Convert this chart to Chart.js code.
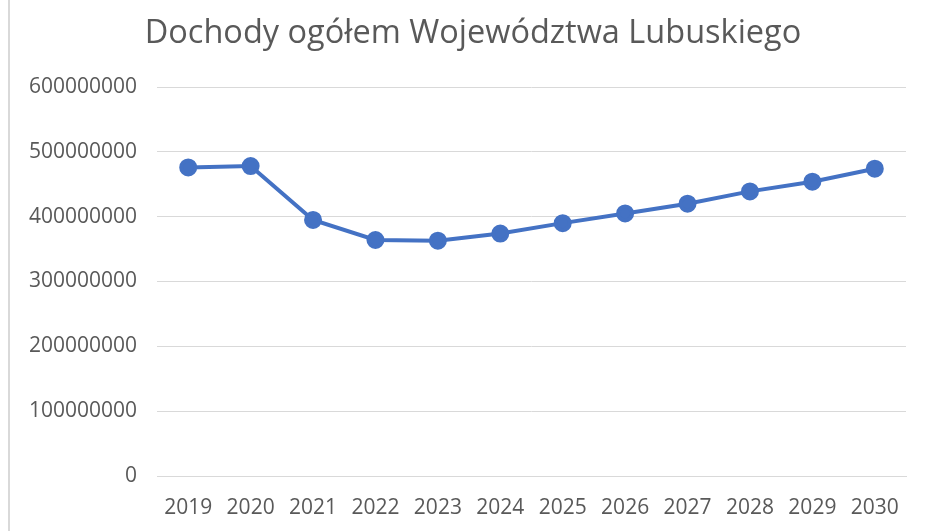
<!DOCTYPE html>
<html>
<head>
<meta charset="utf-8">
<script src="https://cdn.jsdelivr.net/npm/chart.js@4/dist/chart.umd.min.js"></script>
<style>
  html, body { margin: 0; padding: 0; background: #fff; }
  #wrap { position: relative; width: 926px; height: 531px; }
  #edge { position: absolute; left: 8px; top: 0; width: 2px; height: 531px; background: #d9d9d9; }
</style>
</head>
<body>
<div id="wrap">
  <div id="edge"></div>
  <canvas id="incomeChart" width="926" height="531"></canvas>
</div>
<script>
const years = ["2019", "2020", "2021", "2022", "2023", "2024", "2025", "2026", "2027", "2028", "2029", "2030"];
const incomeTotal = [476000000, 478000000, 395000000, 364000000, 363000000, 374000000,
                     390000000, 405000000, 420000000, 439000000, 454000000, 474000000];
const yTicks = [0, 100000000, 200000000, 300000000, 400000000, 500000000, 600000000];

const textColor = "#595959";
const font = "'Open Sans', 'Liberation Sans', sans-serif";

// nudge the title a bit right, it is centred on the whole picture in the original
const shiftTitle = {
  id: "shiftTitle",
  afterLayout(chart) {
    if (chart.titleBlock) {
      chart.titleBlock.left += 15;
      chart.titleBlock.right += 15;
    }
  }
};

const ctx = document.getElementById("incomeChart").getContext("2d");
new Chart(ctx, {
  type: "line",
  data: {
    labels: years,
    datasets: [
      {
        label: "Dochody ogółem",
        data: incomeTotal,
        borderColor: "#4472c4",
        backgroundColor: "#4472c4",
        borderWidth: 4,
        pointRadius: 7,
        pointHoverRadius: 7,
        tension: 0
      }
    ]
  },
  plugins: [shiftTitle],
  options: {
    responsive: false,
    animation: false,
    layout: { padding: { top: 5, right: 20, bottom: 0, left: 10 } },
    plugins: {
      legend: { display: false },
      tooltip: { enabled: false },
      title: {
        display: true,
        text: "Dochody ogółem Województwa Lubuskiego",
        color: textColor,
        font: { family: font, size: 32.5, weight: "normal" },
        padding: { top: 9, bottom: 34 }
      }
    },
    scales: {
      x: {
        offset: true,
        grid: { display: false, drawTicks: false },
        border: { display: true, color: "#d9d9d9", width: 1 },
        ticks: { color: textColor, font: { family: font, size: 21 }, padding: 19, maxRotation: 0 },
        afterFit: (s) => { s.height = 55; }
      },
      y: {
        min: 0,
        max: 600000000,
        afterBuildTicks: (s) => { s.ticks = yTicks.map(v => ({ value: v })); },
        grid: { color: "#d9d9d9", drawTicks: false },
        border: { display: false },
        ticks: {
          color: textColor,
          font: { family: font, size: 21 },
          padding: 20,
          callback: (v) => String(v)
        },
        afterFit: (s) => { s.width = 147; }
      }
    }
  }
});
</script>
</body>
</html>
